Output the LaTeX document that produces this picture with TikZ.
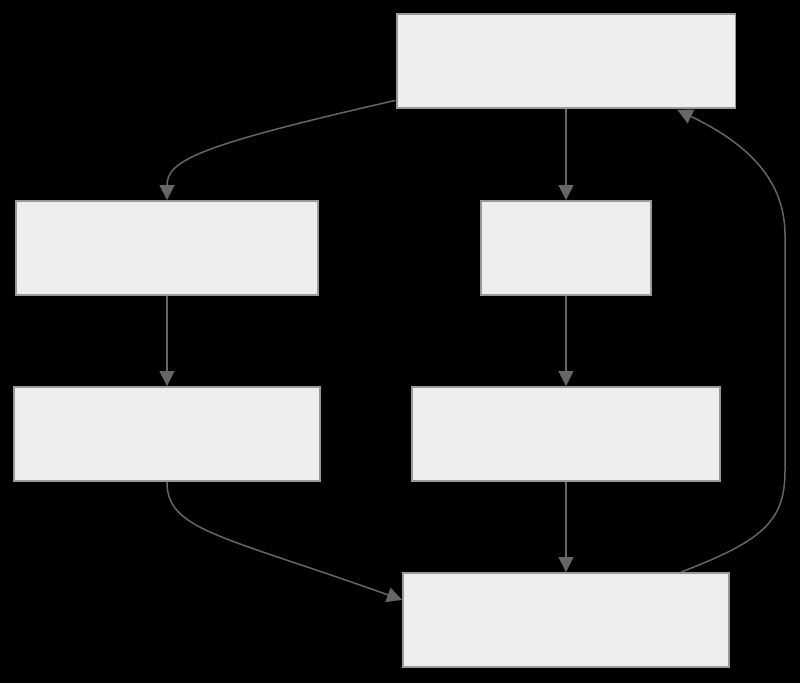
\documentclass[tikz,border=0pt]{standalone}
\usepackage{tikz}
\usepackage{xcolor}
\usetikzlibrary{arrows.meta,calc}

\definecolor{boxfill}{HTML}{EEEEEE}
\definecolor{boxline}{HTML}{999999}
\definecolor{linkline}{HTML}{666666}

\begin{document}
\begin{tikzpicture}
  [x=0.02cm,y=-0.02cm,
   every node/.style={rectangle,draw=boxline,fill=boxfill,line width=1.1pt,inner sep=0pt,minimum height=1.88cm},
   link/.style={draw=linkline,line width=0.85pt,-{Triangle[length=0.3cm,width=0.3cm]},fill=none}]
  \fill[black] (0,0) rectangle (800,683);
  \node[minimum width=6.78cm] (top) at (566,61) {};
  \node[minimum width=6.04cm] (left1) at (167,248) {};
  \node[minimum width=3.40cm] (right1) at (566,248) {};
  \node[minimum width=6.12cm] (left2) at (167,434) {};
  \node[minimum width=6.16cm] (right2) at (566,434) {};
  \node[minimum width=6.52cm] (bottom) at (566,620) {};

  \coordinate (loopout) at ($(bottom.north east)+(-49,0)$);
  \coordinate (loopin) at ($(top.south east)+(-59,1)$);

  \foreach \from/\to in {top/right1,left1/left2,right1/right2,right2/bottom}
    \draw[link] (\from) -- (\to);

  \draw[link] (top.193) .. controls (200,145) and (167,160) .. (left1.north);
  \draw[link] (left2.south) .. controls (167,530) and (220,535) .. (bottom.173);
  \draw[link] (loopout) .. controls (765,540) and (785,520) .. (785,470)
    -- (785,235) .. controls (785,175) and (740,140) .. (loopin);
\end{tikzpicture}
\end{document}
